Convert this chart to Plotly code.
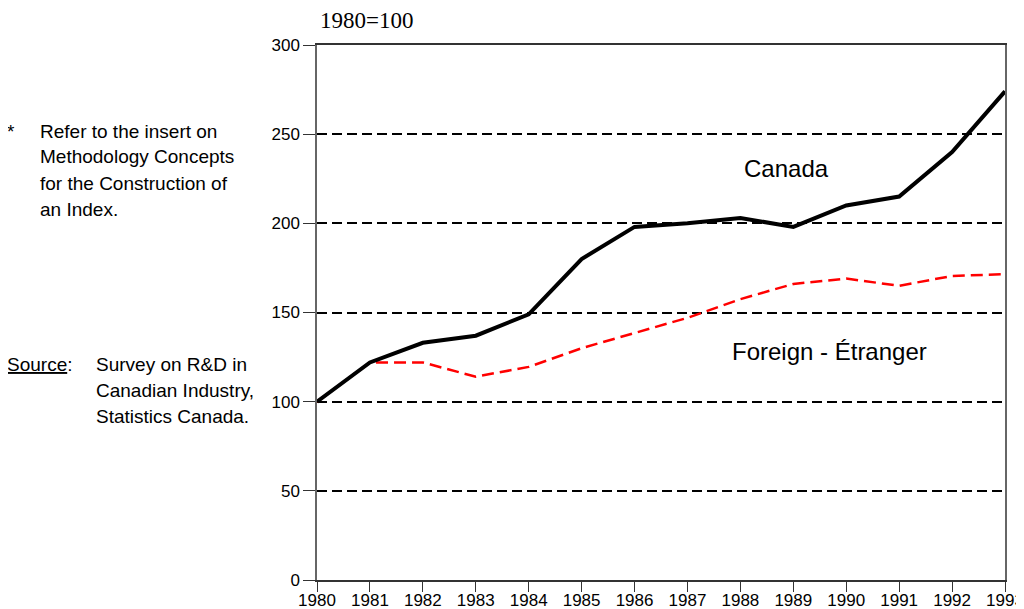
import plotly.graph_objects as go

years = list(range(1980, 1994))
canada = [100, 122, 133, 137, 149, 180, 198, 200, 203, 198, 210, 215, 240, 274]
foreign = [100, 122, 122, 114, 119.5, 130, 138.5, 147, 157.5, 166, 169, 165, 170.5, 171.5]
y_ticks = [0, 50, 100, 150, 200, 250, 300]

fig = go.Figure()
fig.add_trace(go.Scatter(x=years, y=foreign, mode="lines",
                         line=dict(color="#ff0000", width=2.5, dash="12px,6px"),
                         showlegend=False))
fig.add_trace(go.Scatter(x=years, y=canada, mode="lines",
                         line=dict(color="#000000", width=4),
                         showlegend=False))

font = "Liberation Sans, Arial, sans-serif"
narrow = "Liberation Sans Narrow, Arial Narrow, Liberation Sans, sans-serif"
# the page body has an 8px margin, so the figure is 8px smaller and shifted
fig.update_layout(
    width=1016, height=601,
    margin=dict(l=309, r=19, t=37, b=29),
    paper_bgcolor="white", plot_bgcolor="white",
    font=dict(family=font, size=16, color="black"),
    xaxis=dict(range=[1980, 1993], tickvals=years, ticktext=[str(y) for y in years],
               showgrid=False, zeroline=False, showline=True, linecolor="#333",
               linewidth=1.5, mirror=True, ticks="outside", ticklen=10,
               tickcolor="#333", tickfont=dict(size=17, family=narrow),
               ticklabelstandoff=-6, automargin=False),
    yaxis=dict(range=[0, 300], tickvals=y_ticks, showgrid=True, gridcolor="black",
               gridwidth=2, griddash="10px,5px", zeroline=False, showline=True,
               linecolor="#666", linewidth=1.5, mirror=True, ticks="outside",
               ticklen=12, tickcolor="#333", tickfont=dict(size=17, family=font),
               automargin=False),
)

fig.add_annotation(text="1980=100", xref="paper", yref="paper", x=0.0, y=1.0,
                   xshift=1, yshift=25, xanchor="left", yanchor="middle", showarrow=False,
                   font=dict(family="Liberation Serif, Times New Roman, serif", size=23))
fig.add_annotation(text="Canada", x=1988.88, y=230.5, xref="x", yref="y",
                   xanchor="center", yanchor="middle", showarrow=False,
                   font=dict(size=24))
fig.add_annotation(text="Foreign - Étranger", x=1989.69, y=128, xref="x", yref="y",
                   xanchor="center", yanchor="middle", showarrow=False,
                   font=dict(size=24))

def side(text, px, py, size=19):
    fig.add_annotation(text=text, xref="paper", yref="paper",
                       x=(px - 317) / 688, y=(580 - py) / 535,
                       xanchor="left", yanchor="middle", showarrow=False,
                       font=dict(size=size, family=font), align="left")

side("*", 5, 131)
for i, t in enumerate(["Refer to the insert on", "Methodology Concepts",
                       "for the Construction of", "an Index."]):
    side(t, 38, 131 + 26 * i)
side("<u>Source</u>:", 5, 364)
for i, t in enumerate(["Survey on R&D in", "Canadian Industry,", "Statistics Canada."]):
    side(t, 94, 364 + 26 * i)
side("*", 1017, 129)
side("<u>S</u>", 1017, 366)

fig.write_html("out.html")
